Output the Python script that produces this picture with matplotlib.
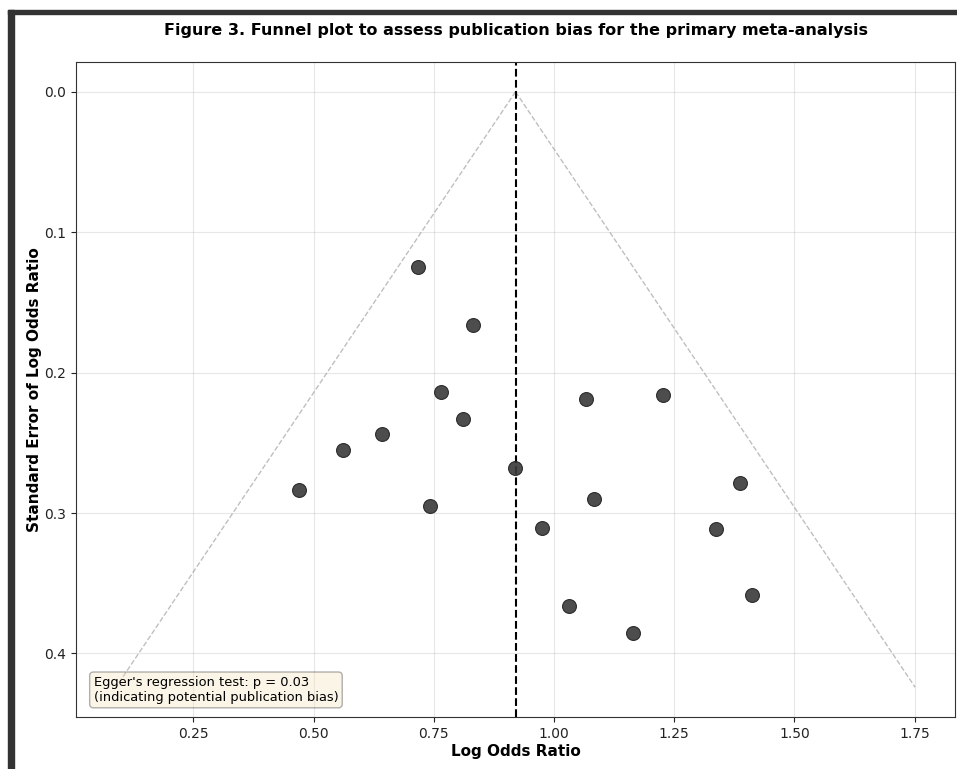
import matplotlib
matplotlib.use("Agg")
import matplotlib.pyplot as plt
from matplotlib.patches import Rectangle
import numpy as np

# study estimates
log_or = [0.718, 0.832, 0.764, 0.811, 0.6425, 0.5606, 0.470, 0.743, 0.918,
          1.066, 1.226, 1.083, 0.976, 1.387, 1.337, 1.031, 1.4125, 1.165]
se = [0.125, 0.166, 0.2135, 0.2327, 0.2436, 0.2550, 0.2835, 0.2947, 0.2676,
      0.2189, 0.2159, 0.2899, 0.3108, 0.2785, 0.3117, 0.3665, 0.3585, 0.3855]
pooled = 0.92
egger_text = "Egger's regression test: p = 0.03\n(indicating potential publication bias)"

fig = plt.figure(figsize=(9.57, 7.69), dpi=100)
ax = fig.add_axes([0.0794, 0.0676, 0.9186, 0.8518])

# funnel (95% pseudo confidence limits)
se_max = max(se) * 1.1
se_line = np.array([0, se_max])
ax.plot(pooled - 1.96 * se_line, se_line, ls="--", color="gray", alpha=0.5, lw=1)
ax.plot(pooled + 1.96 * se_line, se_line, ls="--", color="gray", alpha=0.5, lw=1)

ax.scatter(log_or, se, s=100, facecolor="#3a3a3a", edgecolor="#222222",
           linewidth=0.8, alpha=0.9, zorder=3)
ax.axvline(pooled, color="black", ls="--", lw=1.5, zorder=2)

ax.invert_yaxis()
ax.set_xticks([0.25, 0.5, 0.75, 1.0, 1.25, 1.5, 1.75])
ax.set_yticks([0.0, 0.1, 0.2, 0.3, 0.4])
ax.tick_params(labelsize=10, colors="#222222")
ax.grid(True, alpha=0.3)
ax.set_xlabel("Log Odds Ratio", fontsize=11, fontweight="bold", labelpad=2.5)
ax.set_ylabel("Standard Error of Log Odds Ratio", fontsize=11, fontweight="bold", labelpad=1.5)
for sp in ax.spines.values():
    sp.set_color("#333333")

ax.text(0.02, 0.02, egger_text, transform=ax.transAxes, fontsize=9.4,
        va="bottom", ha="left", zorder=5,
        bbox=dict(boxstyle="round,pad=0.3", facecolor="wheat", alpha=0.3))

fig.text(0.5387, 0.96, "Figure 3. Funnel plot to assess publication bias for the primary meta-analysis",
         ha="center", va="center", fontsize=11.5, fontweight="bold")

# dark frame of the original screenshot
fig.patches.append(Rectangle((0.0084, 0.0), 0.0065, 0.987, transform=fig.transFigure,
                             color="#333333", zorder=10))
fig.patches.append(Rectangle((0.0084, 0.9818), 0.9916, 0.0052, transform=fig.transFigure,
                             color="#333333", zorder=10))

fig.savefig("out.png", dpi=100)
